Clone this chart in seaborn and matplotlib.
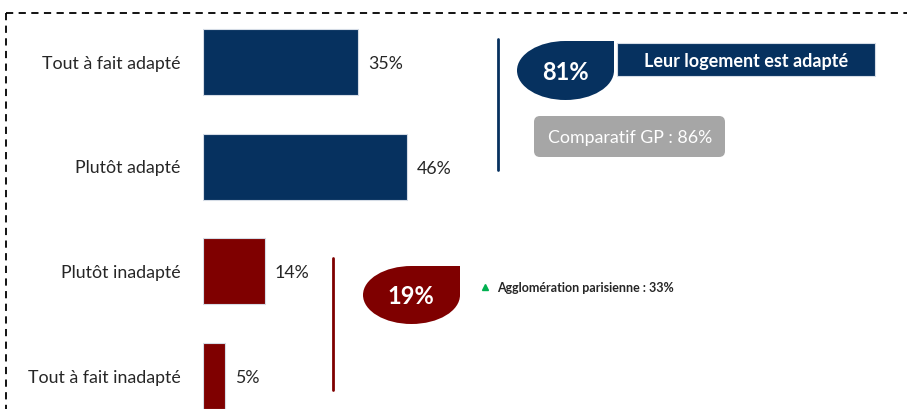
import matplotlib
matplotlib.use("Agg")
import matplotlib.pyplot as plt
import seaborn as sns
import pandas as pd
from matplotlib.path import Path
from matplotlib.patches import PathPatch, FancyBboxPatch, Rectangle

categories = ["Tout à fait adapté", "Plutôt adapté", "Plutôt inadapté", "Tout à fait inadapté"]
values = [35, 46, 14, 5]
value_labels = ["35%", "46%", "14%", "5%"]
groups = ["adapté", "adapté", "inadapté", "inadapté"]
total_adapte = "81%"
total_inadapte = "19%"
headline = "Leur logement est adapté"
comparatif = "Comparatif GP : 86%"
agglo = "Agglomération parisienne : 33%"

NAVY = "#06315F"
RED = "#7F0000"
TXT = "#262626"

sns.set_theme(style="white")
plt.rcParams["font.family"] = ["Lato", "DejaVu Sans"]

W, H = 907, 409
fig = plt.figure(figsize=(W / 100, H / 100), dpi=100)

px_per_pct = 4.43
x0 = 203
ax = fig.add_axes([x0 / W, 0, (W - x0) / W, 1])
df = pd.DataFrame({"cat": categories, "val": values, "grp": groups})
sns.barplot(data=df, x="val", y="cat", hue="grp",
            palette={"adapté": NAVY, "inadapté": RED}, saturation=1,
            orient="h", width=0.63, dodge=False, legend=False,
            edgecolor="#D5DCE6", linewidth=0.8, ax=ax)
ax.set_xlim(0, (W - x0) / px_per_pct)
spacing = 104.67
ax.set_ylim((H - 62) / spacing, -62 / spacing)
ax.set_xlabel("")
ax.set_ylabel("")
ax.set_xticks([])
ax.tick_params(axis="y", length=0, pad=16, labelsize=12.8, labelcolor=TXT)
for s in ax.spines.values():
    s.set_visible(False)
ax.patch.set_alpha(0)
for i, (v, lab) in enumerate(zip(values, value_labels)):
    ax.text(v + 2.2, i + 0.02, lab, va="center", ha="left", fontsize=12.8, color=TXT)

# overlay in pixel coordinates for decorations
ov = fig.add_axes([0, 0, 1, 1], zorder=5)
ov.set_xlim(0, W)
ov.set_ylim(H, 0)
ov.axis("off")
ov.patch.set_alpha(0)

# dashed frame
ov.plot([6, W + 5], [13, 13], color="black", lw=1.3, ls=(0, (4, 3)))
ov.plot([6, 6], [13, H + 5], color="black", lw=1.3, ls=(0, (4, 3)))

def drop(x1, y1, x2, y2, color):
    cx = (x1 + x2) / 2
    cy = (y1 + y2) / 2
    k = 0.5523
    rx = cx - x1
    ry = cy - y1
    verts = [
        (cx, y1), (x2, y1), (x2, cy),
        (x2, cy + k * ry), (cx + k * rx, y2), (cx, y2),
        (cx - k * rx, y2), (x1, cy + k * ry), (x1, cy),
        (x1, cy - k * ry), (cx - k * rx, y1), (cx, y1),
        (cx, y1),
    ]
    codes = [Path.MOVETO, Path.LINETO, Path.LINETO,
             Path.CURVE4, Path.CURVE4, Path.CURVE4,
             Path.CURVE4, Path.CURVE4, Path.CURVE4,
             Path.CURVE4, Path.CURVE4, Path.CURVE4,
             Path.CLOSEPOLY]
    ov.add_patch(PathPatch(Path(verts, codes), facecolor=color, edgecolor="none"))

# adapté block
ov.plot([498, 498], [39, 170], color=NAVY, lw=2)
drop(517, 41, 614, 100, NAVY)
ov.text(565, 73, total_adapte, ha="center", va="center", color="white",
        fontsize=17, fontweight="bold")
ov.add_patch(Rectangle((617, 43), 258, 33, facecolor=NAVY, edgecolor="#D5DCE6", lw=0.8))
ov.text(746, 61, headline, ha="center", va="center", color="white",
        fontsize=13, fontweight="bold")
ov.add_patch(FancyBboxPatch((537, 119), 185, 35, boxstyle="round,pad=3,rounding_size=6",
                            facecolor="#A6A6A6", edgecolor="none"))
ov.text(630, 138, comparatif, ha="center", va="center", color="white", fontsize=12.8)

# inadapté block
ov.plot([333, 333], [258, 390], color=RED, lw=2)
drop(363, 266, 460, 324, RED)
ov.text(411, 297, total_inadapte, ha="center", va="center", color="white",
        fontsize=17, fontweight="bold")
ov.plot([485], [287], marker="^", color="#00B050", markersize=5, ls="none")
ov.text(497, 288, agglo, ha="left", va="center", color=TXT, fontsize=9, fontweight="bold")

fig.savefig("out.png", dpi=100)
